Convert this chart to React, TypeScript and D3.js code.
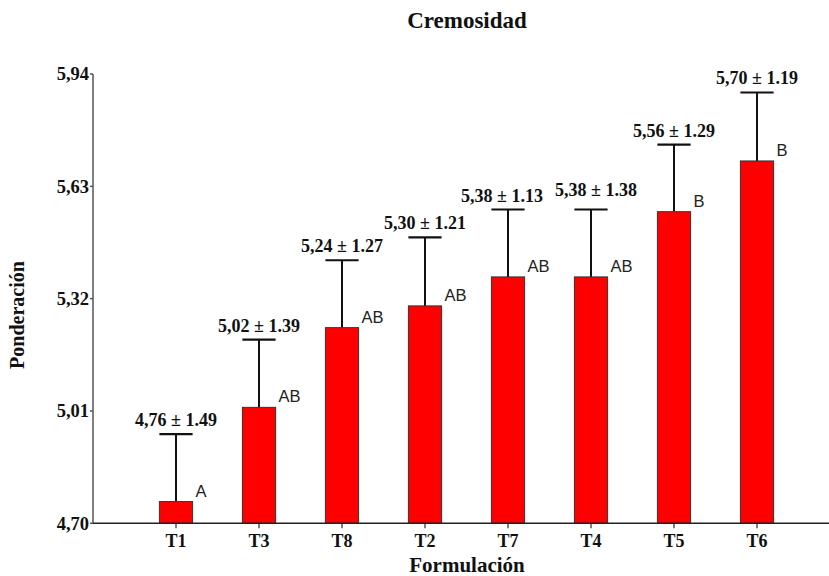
import React from "react";
import * as d3 from "d3";

// Formulations ordered by mean score
const categories = ["T1", "T3", "T8", "T2", "T7", "T4", "T5", "T6"];
const means = [4.76, 5.02, 5.24, 5.3, 5.38, 5.38, 5.56, 5.7];
const sds = [1.49, 1.39, 1.27, 1.21, 1.13, 1.38, 1.29, 1.19];
// Whisker half-lengths drawn above each bar
const errors = [0.186, 0.187, 0.186, 0.189, 0.186, 0.186, 0.185, 0.189];
const groups = ["A", "AB", "AB", "AB", "AB", "AB", "B", "B"];
const yTicks = [4.7, 5.01, 5.32, 5.63, 5.94];

const W = 829;
const H = 576;
const serif = "'Liberation Serif', 'Times New Roman', serif";
const sans = "'Liberation Sans', Arial, sans-serif";

const fmt = (v: number) => v.toFixed(2).replace(".", ",");

// nudges (px) that keep neighbouring value labels apart
const labelNudge: Record<string, [number, number]> = { T7: [-6, 0], T4: [5, -6] };

export default function App() {
  const axisLeft = 93;
  const axisRight = 829;
  const y = d3.scaleLinear().domain([4.7, 5.94]).range([523.3, 74]);
  const x = d3
    .scaleBand<string>()
    .domain(categories)
    .range([134.5, 798.5])
    .paddingInner(0.6)
    .paddingOuter(0.3);
  const bw = x.bandwidth();
  const y0 = y(4.7);

  return (
    <svg
      width={W}
      height={H}
      style={{ position: "absolute", left: 0, top: 0, background: "#fff" }}
    >
      <text
        x={467}
        y={28}
        textAnchor="middle"
        fontFamily={serif}
        fontWeight="bold"
        fontSize={23}
        fill="#111"
      >
        Cremosidad
      </text>

      {/* y axis */}
      <line x1={axisLeft} x2={axisLeft} y1={y(5.94)} y2={y0} stroke="#555" strokeWidth={1.5} />
      {yTicks.map((t) => (
        <g key={t}>
          <line x1={axisLeft - 3} x2={axisLeft} y1={y(t)} y2={y(t)} stroke="#555" strokeWidth={1.5} />
          <text
            x={axisLeft - 4}
            y={y(t)}
            dy="0.35em"
            textAnchor="end"
            fontFamily={serif}
            fontWeight="bold"
            fontSize={18.5}
            fill="#111"
          >
            {fmt(t)}
          </text>
        </g>
      ))}

      {/* bars, whiskers and labels */}
      {categories.map((c, i) => {
        const x0 = x(c) as number;
        const cx = x0 + bw / 2;
        const top = y(means[i]);
        const wTop = y(means[i] + errors[i]);
        const [nx, ny] = labelNudge[c] || [0, 0];
        return (
          <g key={c}>
            <line x1={cx} x2={cx} y1={top} y2={wTop} stroke="#111" strokeWidth={2} />
            <line x1={x0} x2={x0 + bw} y1={wTop} y2={wTop} stroke="#111" strokeWidth={2.2} />
            <rect
              x={x0}
              y={top}
              width={bw}
              height={y0 - top}
              fill="#ff0000"
              stroke="#333"
              strokeWidth={1}
            />
            <text
              x={cx + nx}
              y={wTop - 8 + ny}
              textAnchor="middle"
              fontFamily={serif}
              fontWeight="bold"
              fontSize={18}
              fill="#111"
            >
              {`${fmt(means[i])} ± ${sds[i].toFixed(2)}`}
            </text>
            <text
              x={x0 + bw + 3}
              y={top - 5}
              fontFamily={sans}
              fontSize={16.5}
              fill="#222"
            >
              {groups[i]}
            </text>
            <line x1={cx} x2={cx} y1={y0} y2={y0 + 5} stroke="#555" strokeWidth={1.5} />
            <text
              x={cx}
              y={547}
              textAnchor="middle"
              fontFamily={serif}
              fontWeight="bold"
              fontSize={18}
              fill="#111"
            >
              {c}
            </text>
          </g>
        );
      })}

      {/* x axis */}
      <line x1={axisLeft} x2={axisRight} y1={y0} y2={y0} stroke="#222" strokeWidth={1.5} />

      <text
        x={467}
        y={572}
        textAnchor="middle"
        fontFamily={serif}
        fontWeight="bold"
        fontSize={21}
        fill="#111"
      >
        Formulación
      </text>
      <text
        transform="translate(24,315) rotate(-90)"
        textAnchor="middle"
        fontFamily={serif}
        fontWeight="bold"
        fontSize={20}
        fill="#111"
      >
        Ponderación
      </text>
    </svg>
  );
}
